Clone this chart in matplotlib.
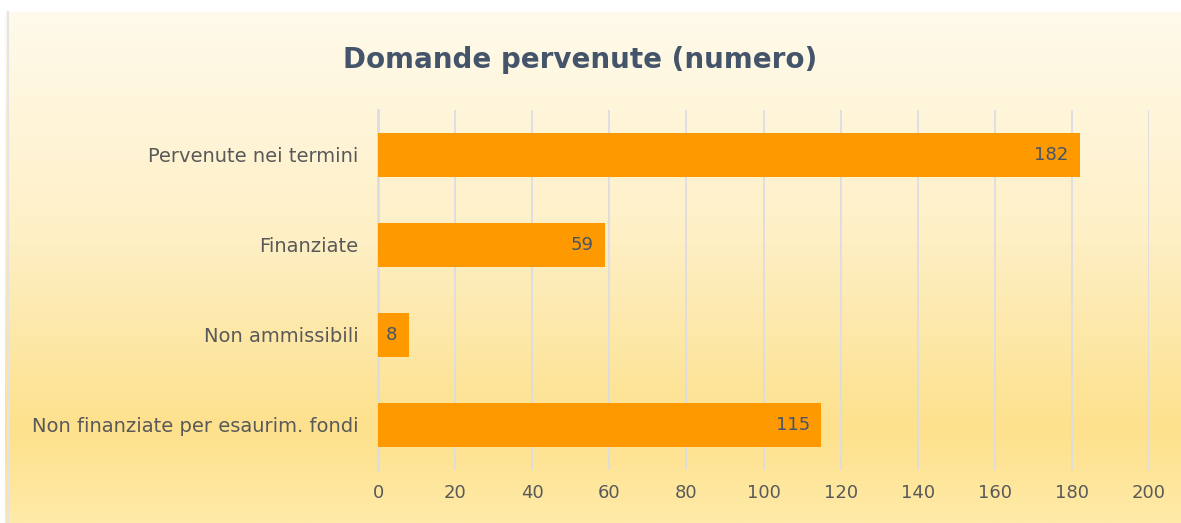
import numpy as np
import matplotlib.pyplot as plt
from matplotlib.colors import LinearSegmentedColormap

categories = ["Pervenute nei termini", "Finanziate", "Non ammissibili",
              "Non finanziate per esaurim. fondi"]
values = [182, 59, 8, 115]
xticks = [0, 20, 40, 60, 80, 100, 120, 140, 160, 180, 200]

fig = plt.figure(figsize=(11.81, 5.23), dpi=100)
fig.patch.set_facecolor("white")

# gradient background panel
bg = fig.add_axes([5 / 1181, 0, 1 - 5 / 1181, 1 - 12 / 523], zorder=0)
cmap = LinearSegmentedColormap.from_list(
    "bg", [(0.0, "#FFEAA8"), (0.18, "#FDE18C"), (0.55, "#FEEFC4"), (1.0, "#FFFAEB")])
grad = np.linspace(0, 1, 256).reshape(-1, 1)
bg.imshow(grad, aspect="auto", cmap=cmap, origin="lower", extent=[0, 1, 0, 1])
bg.set_axis_off()
fig.add_artist(plt.Line2D([8 / 1181, 8 / 1181], [0, 1 - 12 / 523],
                          color="#E2E4EC", linewidth=1.5))

ax = fig.add_axes([378 / 1181, 1 - 470 / 523, (1149 - 378) / 1181, 360 / 523], zorder=1)
ax.patch.set_alpha(0)

y = np.arange(len(categories))
bars = ax.barh(y, values, height=0.49, color="#FF9900", zorder=3)
ax.set_ylim(len(categories) - 0.5, -0.5)
ax.set_xlim(0, 200)
ax.set_xticks(xticks)
ax.set_yticks(y)
ax.set_yticklabels(categories, fontsize=14, color="#595959")
ax.tick_params(axis="x", labelsize=13, colors="#595959", length=0, pad=10)
ax.tick_params(axis="y", length=0, pad=14)
ax.grid(axis="x", color="#DCDCE4", linewidth=1.3, zorder=0)
for s in ["top", "right", "bottom"]:
    ax.spines[s].set_visible(False)
ax.spines["left"].set_color("#DCDCE4")
ax.spines["left"].set_linewidth(2)

for b, v in zip(bars, values):
    ax.text(b.get_width() - 3, b.get_y() + b.get_height() / 2, str(v),
            ha="right", va="center", fontsize=13, color="#44546A", zorder=4)

fig.text(580 / 1181, 1 - 60 / 523, "Domande pervenute (numero)", ha="center", va="center",
         fontsize=20, fontweight="bold", color="#44546A")

fig.savefig("out.png", dpi=100)
